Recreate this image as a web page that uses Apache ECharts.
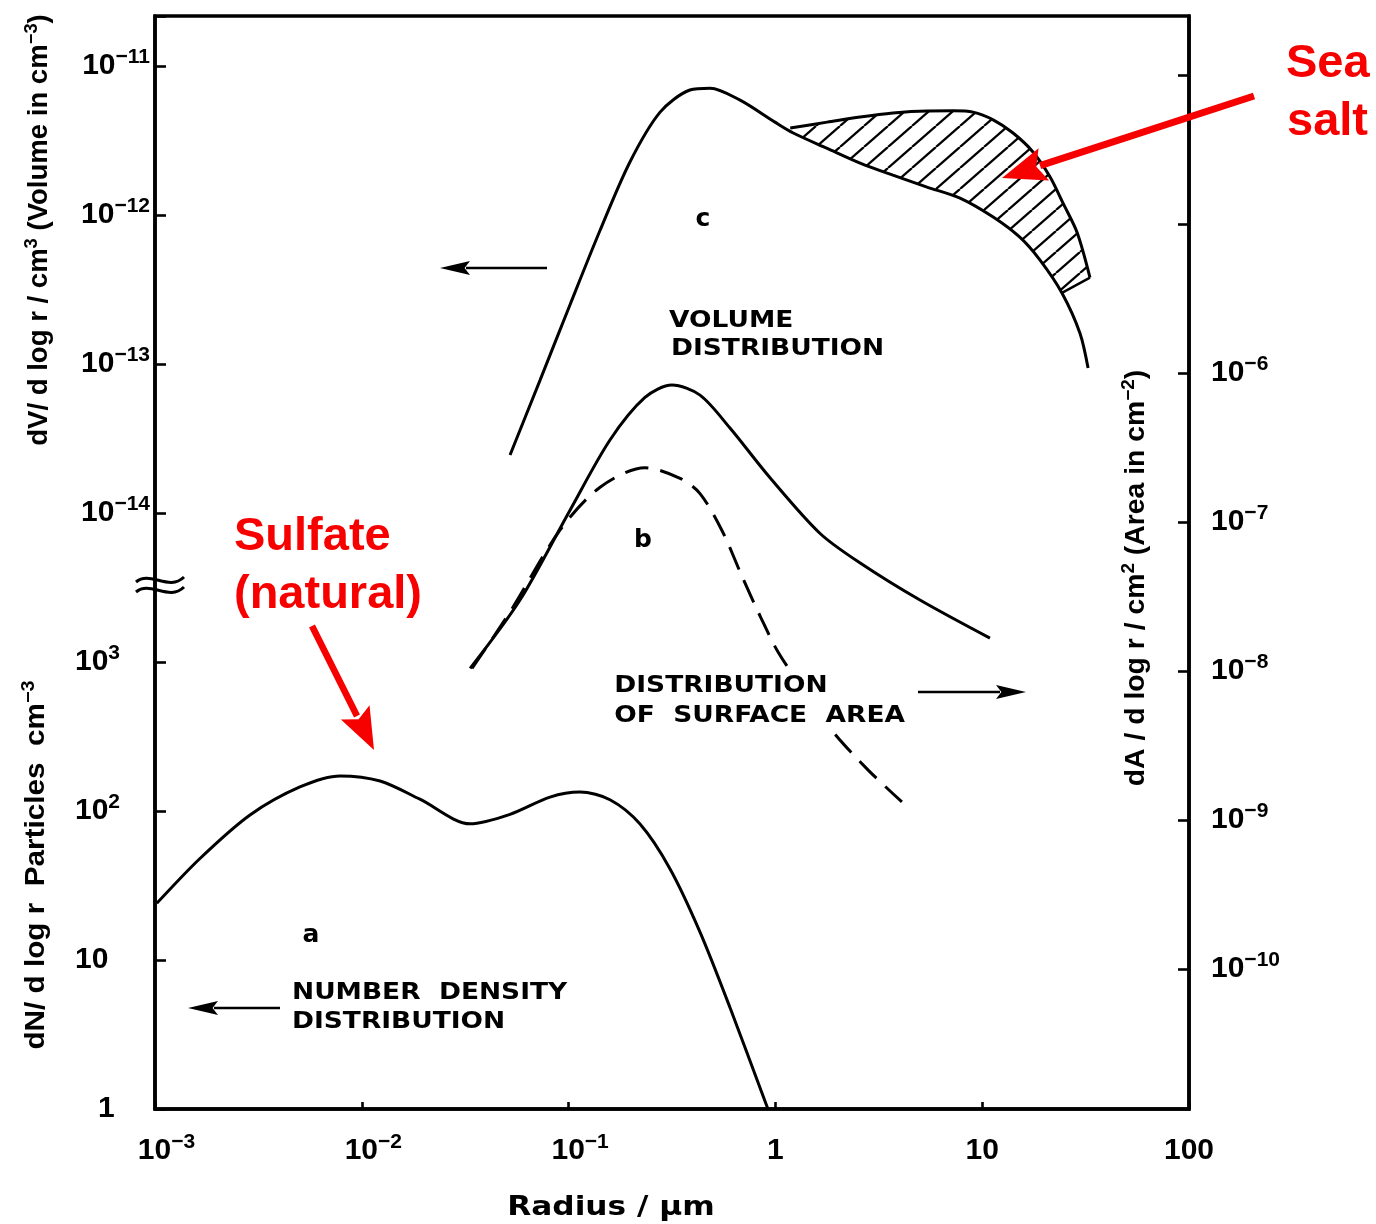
<!DOCTYPE html>
<html>
<head>
<meta charset="utf-8">
<script src="https://cdn.jsdelivr.net/npm/echarts@6/dist/echarts.min.js"></script>
<style>
  html, body { margin: 0; padding: 0; background: #fff; }
  #chart { width: 1376px; height: 1224px; }
</style>
</head>
<body>
<div id="chart"></div>
<script>
// Atmospheric aerosol size distributions versus particle radius (µm)
// a: number density (cm^-3), b: surface area (cm^2 cm^-3), c: volume (cm^3 cm^-3)

// a – number density distribution (sulfate, natural)
const radiusA = [0.00102, 0.00165, 0.00288, 0.00502, 0.00785, 0.01225, 0.0191, 0.0334, 0.0521, 0.0813, 0.1135, 0.1585, 0.221, 0.309, 0.432, 0.603, 0.92];
const numberA = [24, 48, 94, 145, 172, 159, 120, 82, 95, 124, 134, 119, 82, 41, 15.4, 4.8, 1];

// b – surface area distribution (solid)
const radiusB = [0.0334, 0.0582, 0.1016, 0.1585, 0.234, 0.316, 0.432, 0.603, 0.942, 1.64, 2.57, 5.0, 10.9];
const areaB = [1.04e-8, 2.99e-8, 1.2e-7, 3.55e-7, 6.85e-7, 8.3e-7, 7.1e-7, 4.27e-7, 1.98e-7, 8.4e-8, 5.3e-8, 2.99e-8, 1.66e-8];

// b – surface area distribution (dashed)
const radiusBDashed = [0.0341, 0.0521, 0.0908, 0.142, 0.234, 0.346, 0.432, 0.553, 0.690, 0.848, 1.03, 1.39, 1.90, 2.81, 4.09];
const areaBDashed = [1.04e-8, 2.49e-8, 8.8e-8, 1.71e-7, 2.31e-7, 1.96e-7, 1.55e-7, 8.7e-8, 4.3e-8, 2.3e-8, 1.34e-8, 7.2e-9, 3.9e-9, 2.16e-9, 1.32e-9];

// c – volume distribution
const radiusC = [0.0521, 0.0728, 0.1016, 0.142, 0.198, 0.277, 0.386, 0.483, 0.675, 0.995, 1.22, 1.78, 2.57, 3.70, 5.41, 7.81, 11.3, 15.2, 19.0, 24.3, 29.7, 32.5];
const volumeC = [2.45e-14, 7.8e-14, 2.5e-13, 7.9e-13, 2.27e-12, 4.9e-12, 6.9e-12, 7.1e-12, 5.9e-12, 4.2e-12, 3.55e-12, 2.8e-12, 2.23e-12, 1.85e-12, 1.54e-12, 1.3e-12, 9.7e-13, 7.1e-13, 5.0e-13, 3.0e-13, 1.61e-13, 9.4e-14];

// c – upper edge of the sea-salt contribution (hatched)
const radiusSalt = [1.18, 1.78, 2.57, 3.70, 5.41, 7.23, 9.03, 11.3, 14.1, 17.6, 21.3, 24.6, 28.8, 33.2];
const volumeSalt = [3.84e-12, 4.2e-12, 4.55e-12, 4.84e-12, 4.99e-12, 5.0e-12, 4.9e-12, 4.35e-12, 3.55e-12, 2.65e-12, 1.8e-12, 1.2e-12, 7.6e-13, 3.8e-13];
const seaSaltTo = 24.3; // radius where the hatched band rejoins curve c

// tick labels
const radiusTicks = [0.001, 0.01, 0.1, 1, 10, 100];
const radiusTickLabels = ['10^−3', '10^−2', '10^−1', '1', '10', '100'];
const numberTickExps = [0, 1, 2, 3];
const numberTickLabels = ['1', '10', '10^2', '10^3'];
const volumeTickExps = [-14, -13, -12, -11];
const volumeTickLabels = ['10^−14', '10^−13', '10^−12', '10^−11'];
const areaTickExps = [-10, -9, -8, -7, -6];
const areaTickLabels = ['10^−10', '10^−9', '10^−8', '10^−7', '10^−6'];
const areaTickMarks = [-10, -9, -8, -7, -6, -5, -4];

// ---------------------------------------------------------------------------
const FONT = 'Liberation Sans';
const CAPS = 'DejaVu Sans';
const RED = '#f70000';
const DECADES = 1093 / 149;        // plot height in decades
const AREA_MIN = -10.94;           // right scale sits slightly lower than the left one

const chart = echarts.init(document.getElementById('chart'), null, { renderer: 'canvas' });

const tickRich = {
  b: { fontFamily: FONT, fontWeight: 'bold', fontSize: 30, lineHeight: 38, color: '#000' },
  s: { fontFamily: FONT, fontWeight: 'bold', fontSize: 21, lineHeight: 21, verticalAlign: 'top', color: '#000' },
  pad: { width: 23 },
  one: { fontFamily: FONT, fontWeight: 'bold', fontSize: 30, lineHeight: 38, color: '#000', padding: [0, 0, 0, 23] }
};

function richLabel(s, padded) {
  const parts = s.split('^');
  if (parts.length === 2) return (padded ? '{pad| }' : '') + '{b|' + parts[0] + '}{s|' + parts[1] + '}';
  return '{b|' + s + '}';
}
function expLabel(exps, labels, v) {
  const e = Math.round(v);
  if (Math.abs(v - e) > 1e-6) return '';
  const i = exps.indexOf(e);
  return i < 0 ? '' : labels[i];
}
const toLogPairs = (xs, ys) => xs.map((x, i) => [x, Math.log10(ys[i])]);

// diagonal hatching used for the sea-salt band
function hatchCanvas() {
  const w = 24, h = 21;
  const c = document.createElement('canvas');
  c.width = w; c.height = h;
  const g = c.getContext('2d');
  g.strokeStyle = '#000';
  g.lineWidth = 2.3;
  for (const dx of [-w, 0, w]) {
    g.beginPath(); g.moveTo(dx, h); g.lineTo(dx + w, 0); g.stroke();
  }
  return c;
}
const hatch = hatchCanvas();

// ---------------------------------------------------------------------------
// annotation graphics
const graphics = [];
function arrow(x1, y1, x2, y2, color, lw, len, half) {
  const dx = x2 - x1, dy = y2 - y1, d = Math.hypot(dx, dy);
  const ux = dx / d, uy = dy / d, nx = -uy, ny = ux;
  const bx = x2 - ux * len, by = y2 - uy * len;
  graphics.push({ type: 'line', z: 60, shape: { x1, y1, x2: bx + ux * 4, y2: by + uy * 4 }, style: { stroke: color, lineWidth: lw } });
  graphics.push({ type: 'polygon', z: 60, shape: { points: [[x2, y2], [bx + nx * half, by + ny * half], [bx + ux * len * 0.18, by + uy * len * 0.18], [bx - nx * half, by - ny * half]] }, style: { fill: color } });
}
function caps(text, x, y, mask) {
  graphics.push({
    type: 'text', x, y, z: mask ? 50 : 60, scaleX: 1.15,
    style: {
      text, fontFamily: CAPS, fontWeight: 'bold', fontSize: 23, fill: '#000',
      align: 'left', verticalAlign: 'middle',
      backgroundColor: mask ? '#fff' : null, padding: mask ? [3, 2] : 0
    }
  });
}
function letter(text, x, y) {
  graphics.push({ type: 'text', x, y, z: 60, style: { text, fontFamily: CAPS, fontWeight: 'bold', fontSize: 25, fill: '#000', align: 'center', verticalAlign: 'middle' } });
}
function redText(text, x, y) {
  graphics.push({ type: 'text', x, y, z: 60, style: { text, fontFamily: FONT, fontWeight: 'bold', fontSize: 47, fill: RED, align: 'left', verticalAlign: 'middle' } });
}
const titleRich = {
  t: { fontFamily: FONT, fontWeight: 'bold', fontSize: 27, lineHeight: 34, color: '#000' },
  s: { fontFamily: FONT, fontWeight: 'bold', fontSize: 18, lineHeight: 18, verticalAlign: 'top', color: '#000' }
};
function vTitle(text, x, y, sx) {
  graphics.push({ type: 'text', x, y, z: 60, rotation: Math.PI / 2, scaleX: sx, style: { text, rich: titleRich, align: 'center', verticalAlign: 'middle' } });
}

// curve labels
letter('c', 703, 219);
caps('VOLUME', 669, 321);
caps('DISTRIBUTION', 671, 349);
letter('b', 643, 540);
caps('DISTRIBUTION', 612, 686, true);
caps('OF  SURFACE  AREA', 612, 716, true);
letter('a', 311, 935);
caps('NUMBER  DENSITY', 292, 993);
caps('DISTRIBUTION', 292, 1022);

// which scale each curve belongs to
arrow(547, 268, 440, 268, '#000', 2.6, 30, 7);
arrow(280, 1008, 188, 1008, '#000', 2.6, 30, 7);
arrow(918, 692, 1026, 692, '#000', 2.6, 30, 7);

// highlighted aerosol types
arrow(1254, 96, 1002, 178, RED, 7, 44, 17);
arrow(312, 626, 374, 750, RED, 6.5, 42, 16);
redText('Sea', 1286, 64);
redText('salt', 1287, 122);
redText('Sulfate', 234, 537);
redText('(natural)', 234, 595);

// axis titles
vTitle('{t|dV/ d log r / cm}{s|3}{t| (Volume in cm}{s|−3}{t|)}', 40, 230, 1.02);
vTitle('{t|dN/ d log r  Particles  cm}{s|−3}', 37, 865, 1.1);
vTitle('{t|dA / d log r / cm}{s|2}{t| (Area in cm}{s|−2}{t|)}', 1137, 578, 1.05);
graphics.push({ type: 'text', x: 611, y: 1208, z: 60, scaleX: 1.2, style: { text: 'Radius / μm', fontFamily: CAPS, fontWeight: 'bold', fontSize: 26, fill: '#000', align: 'center', verticalAlign: 'middle' } });

// scale break on the left axis
graphics.push({ type: 'bezierCurve', z: 60, shape: { x1: 136, y1: 582, cpx1: 150, cpy1: 570, cpx2: 169, cpy2: 592, x2: 184, y2: 577 }, style: { stroke: '#000', lineWidth: 3, fill: null } });
graphics.push({ type: 'bezierCurve', z: 60, shape: { x1: 136, y1: 592, cpx1: 150, cpy1: 580, cpx2: 169, cpy2: 602, x2: 184, y2: 587 }, style: { stroke: '#000', lineWidth: 3, fill: null } });

// ---------------------------------------------------------------------------
const axisLine = { show: true, onZero: false, lineStyle: { color: '#000', width: 3.5 } };
const inTick = { show: true, inside: true, length: 11, lineStyle: { color: '#000', width: 2.6 } };

const option = {
  backgroundColor: '#fff',
  animation: false,
  grid: { left: 155, right: 187, top: 16, bottom: 115, show: true, borderColor: '#000', borderWidth: 3.5, backgroundColor: 'transparent' },
  xAxis: {
    type: 'log', logBase: 10, min: 0.001, max: 100,
    axisLine,
    axisTick: { show: true, inside: true, length: 7, lineStyle: { color: '#000', width: 2.6 } },
    minorTick: { show: false },
    splitLine: { show: false },
    axisLabel: {
      margin: 23, rich: tickRich,
      formatter: v => {
        const e = Math.round(Math.log10(v));
        const i = radiusTicks.findIndex(t => Math.round(Math.log10(t)) === e);
        return i < 0 ? '' : richLabel(radiusTickLabels[i], radiusTickLabels[i].indexOf('^') > 0);
      }
    }
  },
  yAxis: [
    { // number density (lower part of left scale)
      type: 'value', min: 0, max: DECADES, interval: 1, position: 'left',
      axisLine, axisTick: inTick, splitLine: { show: false },
      axisLabel: {
        align: 'left', margin: 80, rich: tickRich,
        formatter: v => {
          const s = expLabel(numberTickExps, numberTickLabels, v);
          if (!s) return '';
          return s === '1' ? '{one|1}' : richLabel(s, false);
        }
      }
    },
    { // volume (upper part of left scale)
      type: 'value', min: -18, max: -18 + DECADES, interval: 1, position: 'left',
      axisLine: { show: false }, axisTick: { show: false }, splitLine: { show: false },
      axisLabel: {
        align: 'right', margin: 5, rich: tickRich,
        formatter: v => { const s = expLabel(volumeTickExps, volumeTickLabels, v); return s ? richLabel(s, false) : ''; }
      }
    },
    { // surface area (right scale)
      type: 'value', min: AREA_MIN, max: AREA_MIN + DECADES, position: 'right',
      axisLine, splitLine: { show: false },
      axisTick: Object.assign({}, inTick, { customValues: areaTickMarks }),
      axisLabel: {
        margin: 22, rich: tickRich, customValues: areaTickExps,
        formatter: v => { const s = expLabel(areaTickExps, areaTickLabels, v); return s ? richLabel(s, false) : ''; }
      }
    }
  ],
  series: [
    {
      type: 'custom', name: 'sea salt', xAxisIndex: 0, yAxisIndex: 1, z: 3, silent: true,
      data: [[1, -12]],
      renderItem: (params, api) => {
        const upper = radiusSalt.map((r, i) => api.coord([r, Math.log10(volumeSalt[i])]));
        const lower = [];
        for (let i = radiusC.length - 1; i >= 0; i--) {
          if (radiusC[i] >= radiusSalt[0] && radiusC[i] <= seaSaltTo) lower.push(api.coord([radiusC[i], Math.log10(volumeC[i])]));
        }
        const end = upper[upper.length - 1], back = lower[0];
        return {
          type: 'group',
          children: [
            { type: 'polygon', shape: { points: upper.concat(lower) }, style: { fill: { image: hatch, repeat: 'repeat' }, stroke: null } },
            { type: 'line', shape: { x1: end[0], y1: end[1], x2: back[0], y2: back[1] }, style: { stroke: '#000', lineWidth: 2.4 } }
          ]
        };
      }
    },
    {
      type: 'line', name: 'sea salt edge', xAxisIndex: 0, yAxisIndex: 1, z: 5,
      data: toLogPairs(radiusSalt, volumeSalt), smooth: 0.3, symbol: 'none',
      lineStyle: { color: '#000', width: 3 }
    },
    {
      type: 'line', name: 'volume', xAxisIndex: 0, yAxisIndex: 1, z: 5,
      data: toLogPairs(radiusC, volumeC), smooth: 0.3, symbol: 'none',
      lineStyle: { color: '#000', width: 3 }
    },
    {
      type: 'line', name: 'surface area', xAxisIndex: 0, yAxisIndex: 2, z: 5,
      data: toLogPairs(radiusB, areaB), smooth: 0.3, symbol: 'none',
      lineStyle: { color: '#000', width: 3 }
    },
    {
      type: 'line', name: 'surface area (dashed)', xAxisIndex: 0, yAxisIndex: 2, z: 5,
      data: toLogPairs(radiusBDashed, areaBDashed), smooth: 0.3, symbol: 'none',
      lineStyle: { color: '#000', width: 3, type: [24, 12] }
    },
    {
      type: 'line', name: 'number density', xAxisIndex: 0, yAxisIndex: 0, z: 5,
      data: toLogPairs(radiusA, numberA), smooth: 0.3, symbol: 'none',
      lineStyle: { color: '#000', width: 3 }
    }
  ],
  graphic: { elements: graphics }
};

chart.setOption(option);
</script>
</body>
</html>
